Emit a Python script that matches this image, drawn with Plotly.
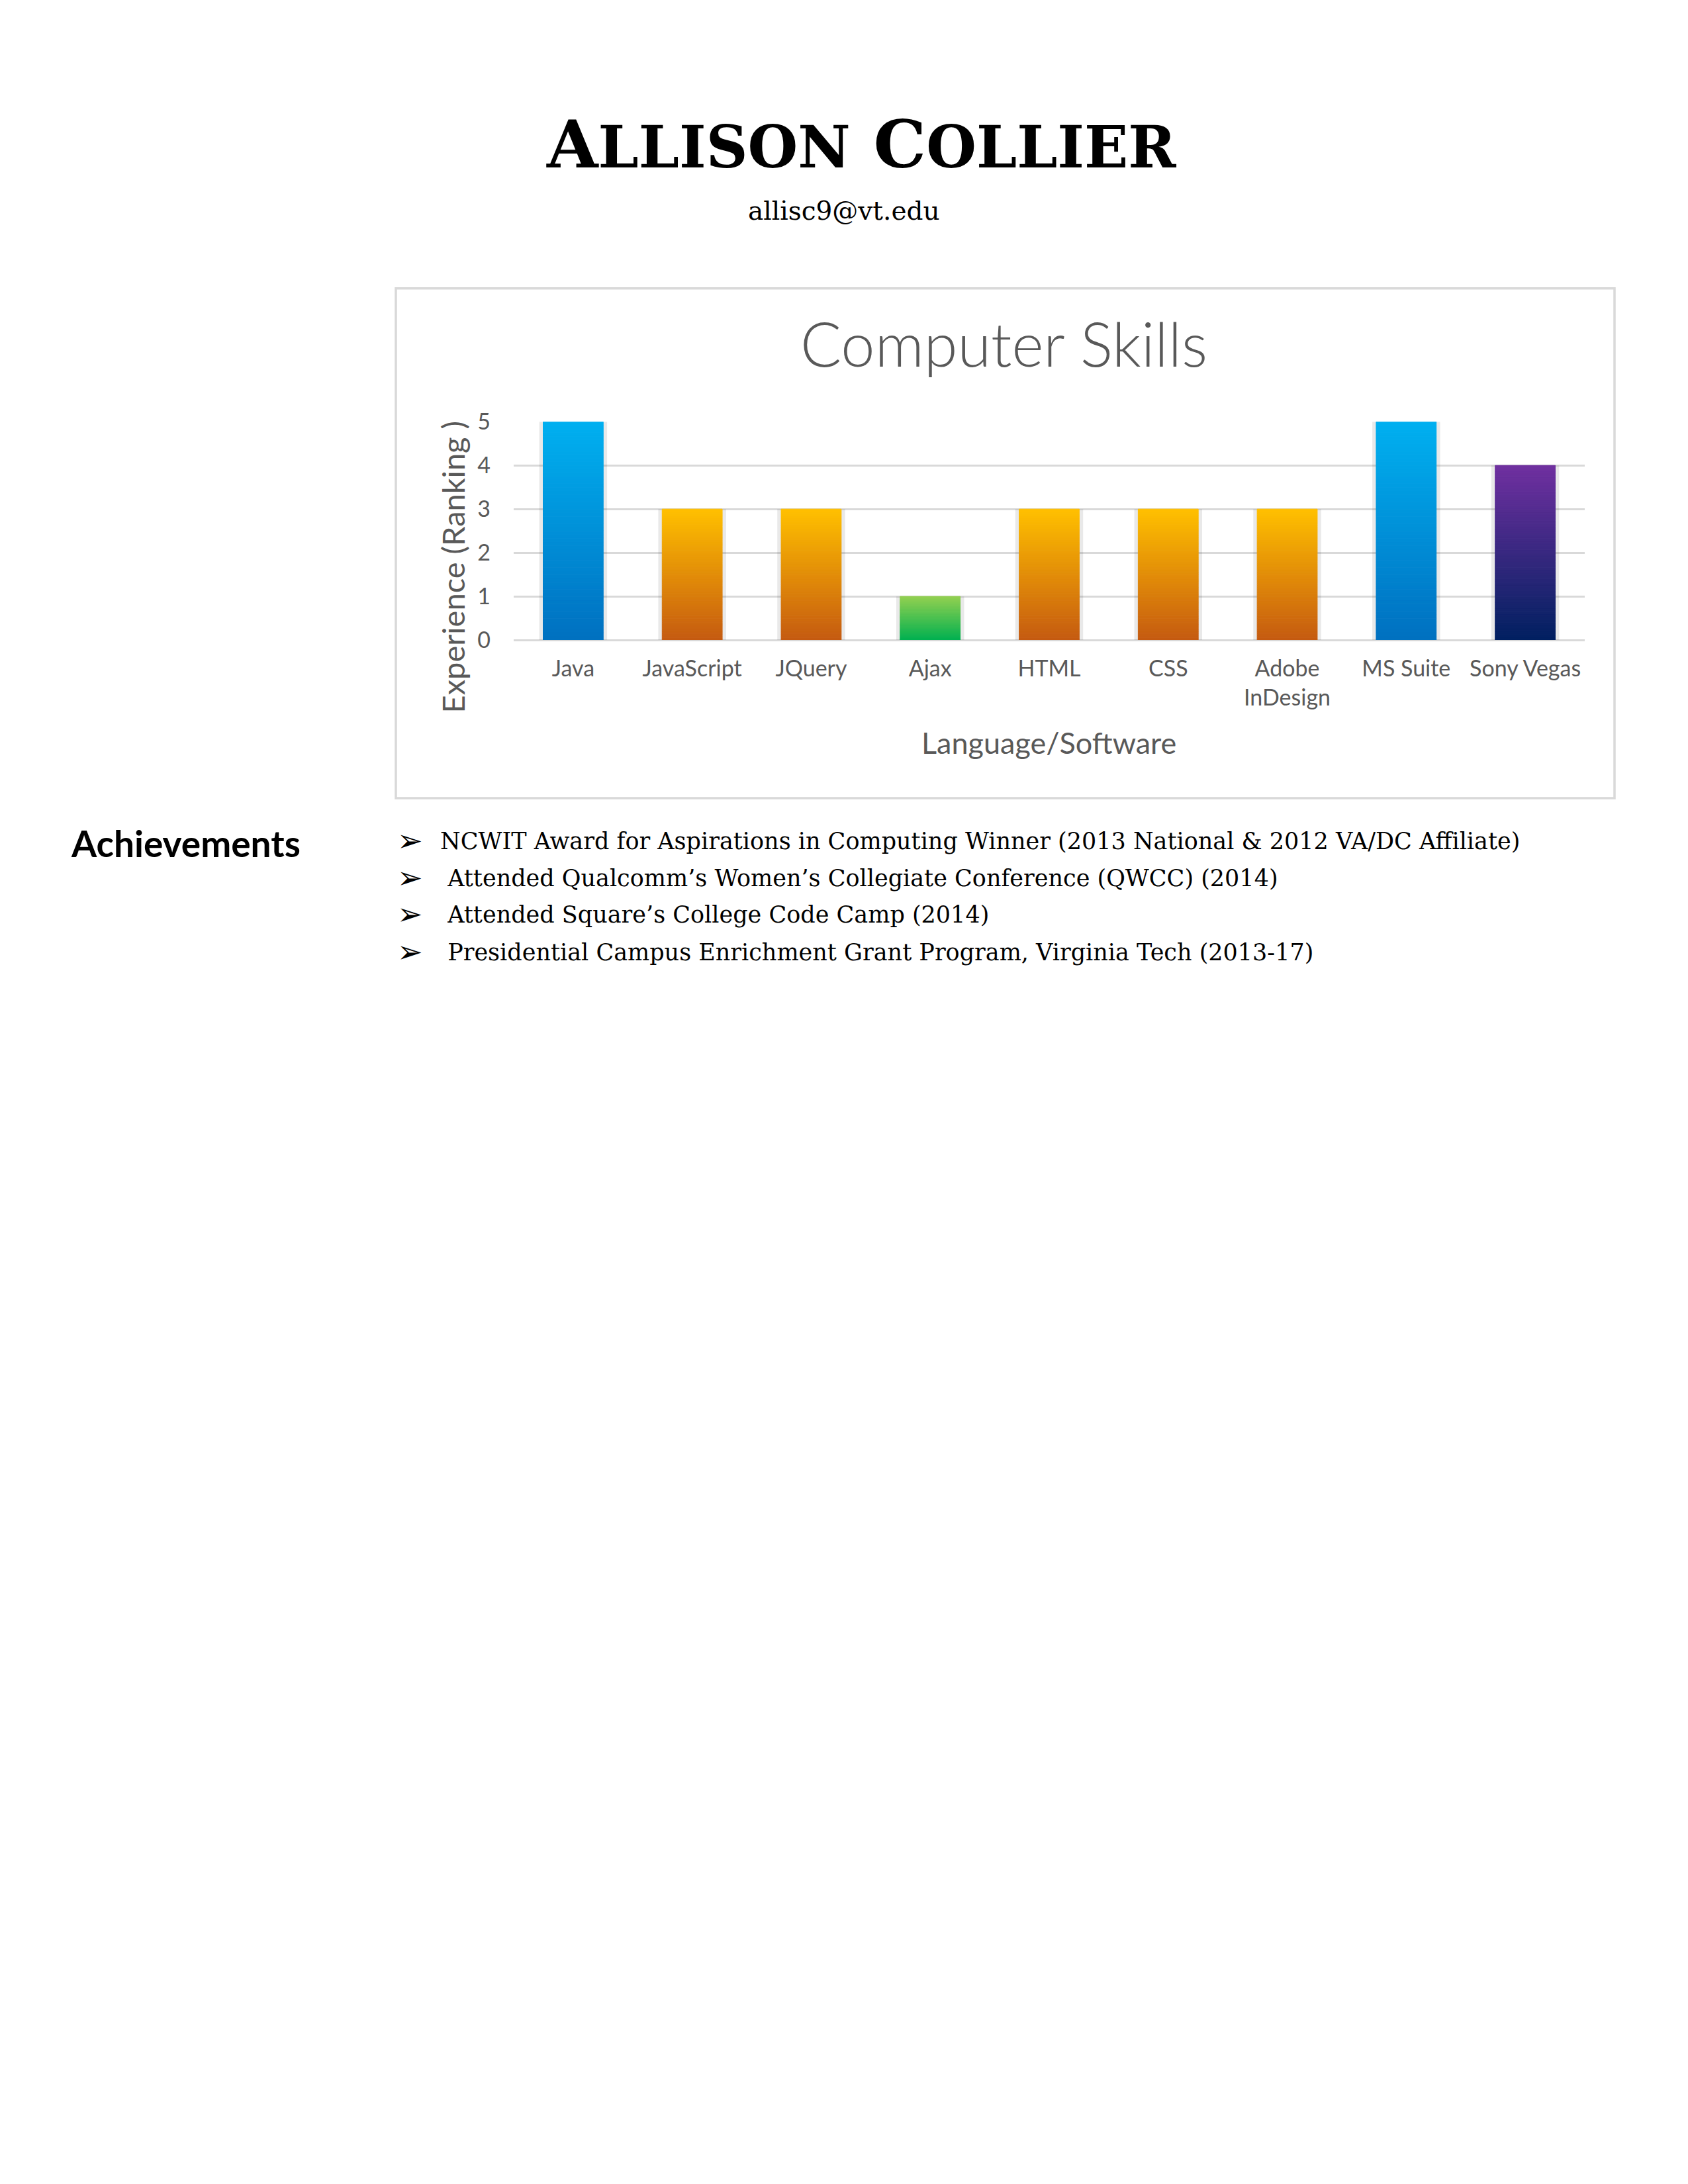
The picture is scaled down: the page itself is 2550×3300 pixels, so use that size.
import plotly.graph_objects as go

# ---- data ----
categories = ["Java", "JavaScript", "JQuery", "Ajax", "HTML", "CSS",
              "Adobe<br>InDesign", "MS Suite", "Sony Vegas"]
experience = [5, 3, 3, 1, 3, 3, 3, 5, 4]
bar_top_colors = ["#00B0F0", "#FFC000", "#FFC000", "#92D050", "#FFC000",
                  "#FFC000", "#FFC000", "#00B0F0", "#7030A0"]
bar_bottom_colors = ["#0070C0", "#C55A11", "#C55A11", "#00B050", "#C55A11",
                     "#C55A11", "#C55A11", "#0070C0", "#002060"]
y_ticks = [0, 1, 2, 3, 4, 5]

name_words = ["ALLISON", "COLLIER"]
email_text = "allisc9@vt.edu"
chart_title = "Computer Skills"
x_title = "Language/Software"
y_title = "Experience (Ranking )"
section_title = "Achievements"
achievements = [
    "NCWIT Award for Aspirations in Computing Winner (2013 National &amp; 2012 VA/DC Affiliate)",
    " Attended Qualcomm’s Women’s Collegiate Conference (QWCC) (2014)",
    " Attended Square’s College Code Camp (2014)",
    " Presidential Campus Enrichment Grant Program, Virginia Tech (2013-17)",
]

W, H = 2550, 3300
GREY = "#595959"


def hex2rgb(h):
    h = h.lstrip("#")
    return tuple(int(h[i:i + 2], 16) for i in (0, 2, 4))


def mix(c1, c2, t):
    a, b = hex2rgb(c1), hex2rgb(c2)
    return "rgb(%d,%d,%d)" % tuple(round(a[i] + (b[i] - a[i]) * t) for i in range(3))


fig = go.Figure()

BAR_W = 0.505
# soft shadow behind bars
fig.add_trace(go.Bar(
    x=categories, y=[v + 0.04 for v in experience], base=[-0.04] * len(experience),
    width=BAR_W + 0.065, marker=dict(color="rgba(0,0,0,0.085)", line=dict(width=0)),
    hoverinfo="skip", showlegend=False))

# gradient bars (stacked slices of each value)
N = 60
for k in range(N):
    t = (k + 0.5) / N
    cols = [mix(b, tp, t) for b, tp in zip(bar_bottom_colors, bar_top_colors)]
    fig.add_trace(go.Bar(
        x=categories,
        y=[v / N for v in experience],
        base=[v * k / N for v in experience],
        width=BAR_W,
        marker=dict(color=cols, line=dict(color=cols, width=1)),
        hoverinfo="skip", showlegend=False))

x0, x1 = 776 / W, 2394 / W
y_top, y_bot = 1 - 623 / H, 1 - 957 / H

fig.update_layout(
    width=W, height=H,
    margin=dict(l=0, r=0, t=0, b=0),
    paper_bgcolor="white", plot_bgcolor="white",
    barmode="overlay",
    showlegend=False,
    xaxis=dict(domain=[x0, x1], type="category", showgrid=False, zeroline=False,
               showline=False, ticks="", ticklabelstandoff=20,
               tickfont=dict(family="Lato", size=34, color=GREY)),
    yaxis=dict(domain=[y_bot, y_top], range=[0, 5], tickvals=y_ticks,
               showgrid=True, gridcolor="#D9D9D9", gridwidth=3,
               zeroline=True, zerolinecolor="#D9D9D9", zerolinewidth=3,
               showline=False, ticks="", ticklabelstandoff=34,
               tickfont=dict(family="Lato", size=34, color=GREY)),
)

# chart border
fig.add_shape(type="rect", xref="paper", yref="paper",
              x0=598 / W, x1=2439 / W, y0=1 - 1199 / H, y1=1 - 419 / H,
              line=dict(color="#D9D9D9", width=3.5), fillcolor="rgba(0,0,0,0)", layer="below")


def ann(text, x, y, size, family, color="black", xanchor="center", yanchor="middle",
        angle=0, weight="normal"):
    fig.add_annotation(text=text, xref="paper", yref="paper", x=x / W, y=1 - y / H,
                       showarrow=False, xanchor=xanchor, yanchor=yanchor, textangle=angle,
                       font=dict(family=family, size=size, color=color, weight=weight))


# name in small caps
big, small = 100, 87
name_html = " ".join(
    "<span style='font-size:%dpx'>%s</span><span style='font-size:%dpx'>%s</span>"
    % (big, w[0], small, w[1:]) for w in name_words)
ann("<b>" + name_html + "</b>", 1301, 198, big, "DejaVu Serif")

ann(email_text, 1275, 300, 39, "DejaVu Serif")
ann(chart_title, 1517, 503, 92, "Lato", GREY, weight=300)
ann(x_title, 1584, 1114, 45, "Lato", GREY)
ann(y_title, 684, 845, 47, "Lato", GREY, angle=-90)

ann("<b>" + section_title + "</b>", 105, 1268, 55, "Lato", "black", xanchor="left")

bullet_base = [1280, 1337, 1392, 1450]
BS = 35
for txt, yb in zip(achievements, bullet_base):
    ann("➢", 598, yb - 0.346 * BS - 4, 46, "DejaVu Sans", "black", xanchor="left")
    ann(txt, 663, yb - 0.346 * BS - 3, BS, "DejaVu Serif", "black", xanchor="left")

fig.write_html("out.html", post_script="document.body.style.margin='0';")
